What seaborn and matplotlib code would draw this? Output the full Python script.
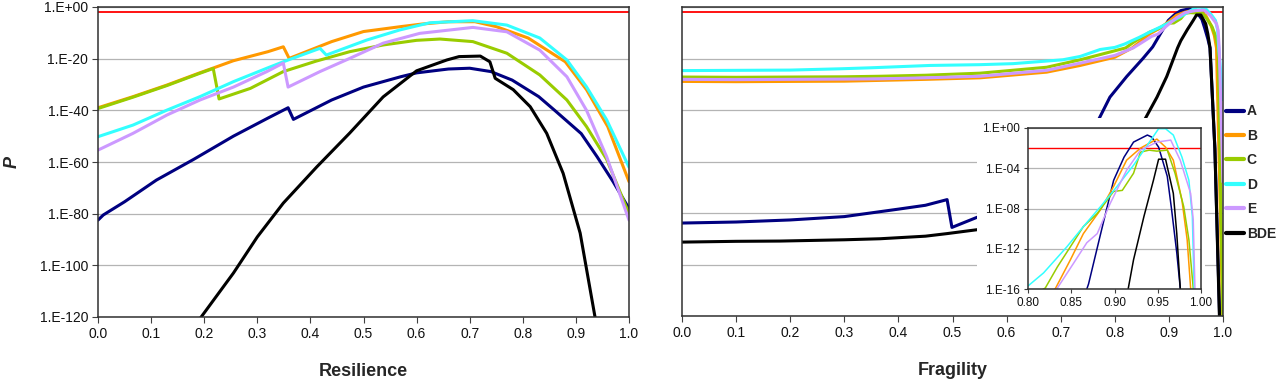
import numpy as np
import pandas as pd
import matplotlib
matplotlib.use('Agg')
import matplotlib.pyplot as plt
import seaborn as sns
from matplotlib.lines import Line2D
from matplotlib.patches import Rectangle
from matplotlib.ticker import FuncFormatter, NullLocator, FormatStrFormatter

series = ['A', 'B', 'C', 'D', 'E', 'BDE']
colors = ['#000080', '#ff9900', '#99cc00', '#33ffff', '#cc99ff', '#000000']
threshold = 1e-2

# values are log10(P)
res_x_a = [0, 0.01, 0.05, 0.11, 0.18, 0.255, 0.32, 0.358, 0.368, 0.44, 0.5, 0.57, 0.6, 0.66, 0.7,
           0.74, 0.78, 0.83, 0.86, 0.91, 0.94, 0.97, 1.0]
res_p_a = [-82.5, -80.5, -75.4, -67, -59, -50, -43, -39, -43.5, -36, -31, -27, -25.5, -24, -23.7,
           -25, -28.3, -34.7, -40, -49, -58, -67.6, -78]
res_x_b = [0, 0.066, 0.13, 0.19, 0.22, 0.255, 0.32, 0.349, 0.36, 0.44, 0.5, 0.57, 0.61, 0.66, 0.71,
           0.75, 0.81, 0.88, 0.92, 0.96, 1.0]
res_p_b = [-39, -34.7, -30.2, -25.6, -23.4, -20.8, -17.3, -15.4, -19.9, -13.4, -9.5, -7.6, -6.6, -5.7,
           -5.7, -7.6, -12, -21.2, -32, -46.3, -67.6]
res_x_c = [0, 0.066, 0.13, 0.19, 0.217, 0.228, 0.287, 0.349, 0.41, 0.474, 0.537, 0.6, 0.644, 0.706,
           0.77, 0.832, 0.883, 0.92, 0.958, 1.0]
res_p_c = [-39.3, -34.9, -30.4, -25.8, -23.8, -35.6, -31.5, -25, -21, -17.3, -14.7, -12.9, -12.4, -13.4,
           -17.9, -26.3, -36, -46.3, -59, -80]
res_x_d = [0, 0.066, 0.13, 0.192, 0.255, 0.318, 0.349, 0.418, 0.43, 0.506, 0.568, 0.625, 0.706, 0.77,
           0.832, 0.883, 0.92, 0.958, 1.0]
res_p_d = [-50.2, -45.7, -39.9, -34.7, -28.9, -23.7, -21.2, -16, -18.6, -12.8, -8.9, -6.1, -5.3, -7,
           -12, -20.5, -30.9, -43.7, -62]
res_x_e = [0, 0.066, 0.13, 0.192, 0.255, 0.318, 0.349, 0.358, 0.418, 0.474, 0.537, 0.606, 0.706, 0.77,
           0.832, 0.883, 0.92, 0.958, 1.0]
res_p_e = [-55.4, -48.9, -41.8, -36, -31, -25, -21.7, -31, -25, -19.9, -14, -10.2, -7.9, -9.6,
           -16.7, -27, -40, -58, -82.5]
res_x_bde = [0.18, 0.255, 0.3, 0.349, 0.412, 0.474, 0.537, 0.6, 0.657, 0.68, 0.72, 0.738, 0.748, 0.782,
             0.814, 0.845, 0.876, 0.908, 0.936, 0.95]
res_p_bde = [-124, -103, -89, -75.9, -61.9, -48.8, -34.8, -24.7, -20.5, -19.2, -19, -21.2, -27.6, -32,
             -38.6, -48.9, -64.4, -87.5, -120, -132]

fra_x_a = [0, 0.1, 0.2, 0.3, 0.4, 0.45, 0.49, 0.499, 0.545, 0.6, 0.65, 0.7, 0.74, 0.767, 0.791, 0.822,
           0.852, 0.87, 0.884, 0.899, 0.911, 0.922, 0.938, 0.943, 0.951, 0.961, 0.966, 0.972, 0.976,
           0.985, 0.994]
fra_p_a = [-83.9, -83.5, -82.7, -81.4, -78.5, -77, -74.8, -85.6, -81.7, -78, -70, -60, -52, -45, -35, -27,
           -20, -15.5, -10.5, -5.2, -2.9, -1.4, -0.7, -0.9, -1.9, -4.8, -8.1, -12.4, -15.9,
           -55, -122]
fra_x_b = [0, 0.1, 0.2, 0.3, 0.366, 0.45, 0.551, 0.674, 0.736, 0.8, 0.832, 0.849, 0.864, 0.884, 0.899,
           0.914, 0.93, 0.949, 0.959, 0.968, 0.978, 0.984, 0.988, 1.0]
fra_p_b = [-28.9, -29, -28.9, -28.8, -28.5, -28.1, -27.5, -25.3, -22.7, -19.5, -15.9, -13.1, -10.5, -8.1, -5.8,
           -3.2, -2.0, -1.1, -1.9, -3.2, -7.2, -11.1, -15.9, -125]
fra_x_c = [0, 0.1, 0.2, 0.3, 0.366, 0.45, 0.551, 0.674, 0.736, 0.8, 0.82, 0.834, 0.849, 0.864, 0.88,
           0.899, 0.909, 0.922, 0.93, 0.94, 0.949, 0.961, 0.97, 0.98, 0.986, 0.991, 1.0]
fra_p_c = [-27.2, -27.3, -27.2, -27.1, -26.9, -26.5, -25.7, -23.4, -20.5, -17, -15.9, -13.8, -11.8, -9.8, -8.5,
           -6.3, -6.2, -4.5, -2.4, -2.2, -2.3, -2.2, -4.5, -7.8, -11.1, -15.9, -125]
fra_x_d = [0, 0.1, 0.2, 0.292, 0.35, 0.458, 0.55, 0.612, 0.704, 0.736, 0.773, 0.8, 0.818, 0.845, 0.864,
           0.884, 0.903, 0.922, 0.934, 0.951, 0.959, 0.968, 0.978, 0.986, 0.99, 0.992, 1.0]
fra_p_d = [-24.7, -24.6, -24.5, -24, -23.6, -22.7, -22.4, -22, -20.5, -19.2, -16.5, -15.7, -14.4, -11.8, -9.8,
           -7.8, -5.8, -3.7, -2.2, -0.07, -0.07, -0.7, -2.9, -5.2, -8.8, -15.7, -36]
fra_x_e = [0, 0.1, 0.2, 0.3, 0.366, 0.45, 0.551, 0.674, 0.736, 0.8, 0.834, 0.853, 0.868, 0.88, 0.895,
           0.914, 0.93, 0.949, 0.965, 0.976, 0.988, 0.991, 0.993, 1.0]
fra_p_e = [-28.1, -28.2, -28.1, -28.0, -27.9, -27.5, -26.9, -24.6, -21.8, -18.8, -15.9, -13.4, -11.4, -10.5, -7.5,
           -4.2, -2.2, -1.4, -1.2, -3.2, -6.5, -9.1, -15.9, -68]
fra_x_bde = [0, 0.1, 0.181, 0.3, 0.366, 0.45, 0.49, 0.545, 0.6, 0.7, 0.8, 0.852, 0.878, 0.896, 0.916,
             0.922, 0.934, 0.945, 0.951, 0.959, 0.968, 0.972, 0.976, 0.985, 0.994]
fra_p_bde = [-91.3, -91.0, -90.9, -90.4, -90, -89, -88, -86.5, -84, -75, -58, -45, -35, -27, -15.9,
             -13.1, -8.8, -5.2, -3.1, -3.1, -6.5, -10.5, -15.9, -55, -125]


def to_frame(xs, ps):
    parts = []
    for name, x, p in zip(series, xs, ps):
        parts.append(pd.DataFrame({'x': x, 'P': np.power(10.0, p), 'series': name}))
    return pd.concat(parts, ignore_index=True)


res = to_frame([res_x_a, res_x_b, res_x_c, res_x_d, res_x_e, res_x_bde],
               [res_p_a, res_p_b, res_p_c, res_p_d, res_p_e, res_p_bde])
fra = to_frame([fra_x_a, fra_x_b, fra_x_c, fra_x_d, fra_x_e, fra_x_bde],
               [fra_p_a, fra_p_b, fra_p_c, fra_p_d, fra_p_e, fra_p_bde])

sns.set_theme(style='white')
plt.rcParams['font.family'] = ['Liberation Sans', 'DejaVu Sans']
palette = dict(zip(series, colors))


def p_label(v, pos):
    return '1.E{:+03d}'.format(int(round(np.log10(v))))


def style_axes(ax, red_lw, yticks, xticks, xfmt, labelsize, ticklen):
    ax.set_yscale('log')
    ax.axhline(threshold, color='#ff0000', lw=red_lw)
    ax.set_yticks(yticks)
    ax.yaxis.set_minor_locator(NullLocator())
    ax.yaxis.set_major_formatter(FuncFormatter(p_label))
    ax.set_xticks(xticks)
    ax.xaxis.set_major_formatter(FormatStrFormatter(xfmt))
    ax.grid(axis='y', color='#b4b4b4', lw=0.9)
    ax.set_axisbelow(True)
    ax.tick_params(axis='both', direction='out', length=ticklen, width=0.8, color='#404040',
                   labelsize=labelsize, pad=3, bottom=True, left=True, labelcolor='#111111')
    for s in ax.spines.values():
        s.set_color('#303030')
        s.set_linewidth(1.1)


main_yticks = [10.0 ** k for k in range(-120, 1, 20)]
main_xticks = [i / 10 for i in range(11)]

fig = plt.figure(figsize=(12.8, 3.86), dpi=100)
ax1 = fig.add_axes([98 / 1280, 1 - 317 / 386, 531 / 1280, 310 / 386])
ax2 = fig.add_axes([682 / 1280, 1 - 316 / 386, 541 / 1280, 309 / 386])

for ax, df in [(ax1, res), (ax2, fra)]:
    style_axes(ax, 1.3, main_yticks, main_xticks, '%.1f', 10, 4)
    sns.lineplot(data=df, x='x', y='P', hue='series', hue_order=series, palette=palette,
                 estimator=None, sort=False, legend=False, lw=2.2, ax=ax)
    ax.set_xlim(0, 1)
    ax.set_ylim(1e-120, 1)

ax1.set_xlabel('Resilience', fontsize=13, fontweight='bold')
ax2.set_xlabel('Fragility', fontsize=13, fontweight='bold')
ax1.xaxis.set_label_coords(0.5, -0.15)
ax2.xaxis.set_label_coords(0.5, -0.15)
ax1.set_ylabel('P', fontsize=13, fontweight='bold', fontstyle='italic')
ax1.yaxis.set_label_coords(-0.145, 0.5)
ax2.set_ylabel('')
ax2.tick_params(axis='y', left=False, labelleft=False)

# white area behind the inset and its labels
ax2.add_patch(Rectangle((977 / 1280, 1 - 314.5 / 386), 228 / 1280, 196.5 / 386,
                        transform=fig.transFigure, facecolor='white', edgecolor='none', zorder=3))

axin = fig.add_axes([1028 / 1280, 1 - 289 / 386, 173 / 1280, 161 / 386])
axin.set_facecolor('white')
style_axes(axin, 1.0, [10.0 ** k for k in range(-16, 1, 4)], [0.80, 0.85, 0.90, 0.95, 1.00],
           '%.2f', 8.5, 3)
sns.lineplot(data=fra, x='x', y='P', hue='series', hue_order=series, palette=palette,
             estimator=None, sort=False, legend=False, lw=1.1, ax=axin)
axin.set_xlim(0.8, 1.0)
axin.set_ylim(1e-16, 1)
axin.set_xlabel('')
axin.set_ylabel('')

handles = [Line2D([], [], color=c, lw=3) for c in colors]
fig.legend(handles, series, loc='center left', bbox_to_anchor=(1226 / 1280, 1 - 172.5 / 386),
           frameon=False, handlelength=1.3, handletextpad=0.2, labelspacing=0.75,
           borderpad=0, borderaxespad=0, prop={'weight': 'bold', 'size': 10})

fig.savefig('out.png', dpi=100)
